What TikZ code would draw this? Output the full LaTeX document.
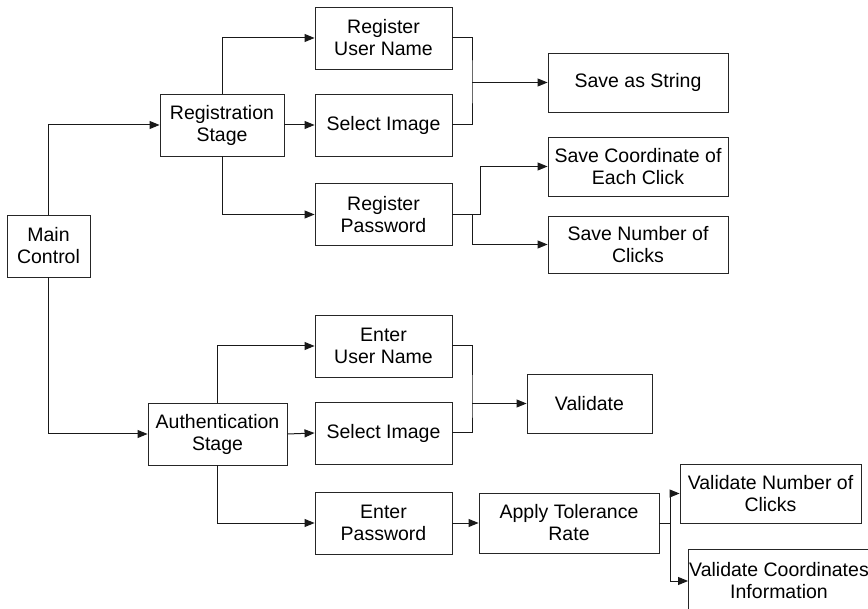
\documentclass[tikz,border=0pt]{standalone}
\usepackage{fontspec}
\setmainfont{Liberation Sans}
\usetikzlibrary{arrows.meta}
\tikzset{
  box/.style={draw=black!85, line width=0.9pt, rectangle, align=center, inner sep=0pt,
    minimum width=137pt, minimum height=62pt,
    font=\fontsize{19.5}{22}\selectfont},
  wide/.style={minimum width=181pt, minimum height=59pt},
  link/.style={draw=black!90, line width=1pt},
  arr/.style={link, -{Triangle[length=10pt,width=8pt]}}
}
\begin{document}
\begin{tikzpicture}[x=1pt,y=-1pt]
\fill[white] (0,0) rectangle (868,609);
\useasboundingbox (0,0) rectangle (868,609);

% root
\node[box, minimum width=83pt] (main) at (48.5,246) {Main\\Control};

% registration branch
\node[box, minimum width=124pt] (reg) at (222,125) {Registration\\Stage};
\node[box] (rusr) at (383.5,38) {Register\\User Name};
\node[box] (rimg) at (383.5,125) {Select Image};
\node[box] (rpwd) at (383.5,214.5) {Register\\Password};
\node[box, wide, minimum width=180pt] (sstr) at (638,82.5) {Save as String};
\node[box, wide, minimum width=180pt] (scoord) at (638,166.5) {Save Coordinate of\\Each Click};
\node[box, wide, minimum width=180pt, minimum height=57pt] (snum) at (638,244.5) {Save Number of\\Clicks};

% authentication branch
\node[box, minimum width=139pt] (auth) at (217.5,434) {Authentication\\Stage};
\node[box] (eusr) at (383.5,346) {Enter\\User Name};
\node[box] (aimg) at (383.5,433) {Select Image};
\node[box] (epwd) at (383.5,523) {Enter\\Password};
\node[box, minimum width=125pt, minimum height=59pt] (valid) at (589.5,403.5) {Validate};
\node[box, minimum width=180pt, minimum height=60pt] (atol) at (569,523) {Apply Tolerance\\Rate};
\node[box, wide] (vnum) at (770.5,493.5) {Validate Number of\\Clicks};
\node[box, wide, minimum height=64pt] (vcoord) at (779,581) {Validate Coordinates\\Information};

% root to stages
\draw[arr] (main.north) |- (reg.west);
\draw[arr] (main.south) |- (auth.west);

% registration links
\draw[arr] (reg.north) |- (rusr.west);
\draw[arr] (reg.east) -- (rimg.west);
\draw[arr] (reg.south) |- (rpwd.west);
\coordinate (j1) at (472,82.5);
\draw[link] (rusr.east) -| (j1) |- (rimg.east);
\draw[arr] (j1) -- (sstr.west);
\coordinate (j2) at (480,214.5);
\coordinate (j3) at (472,214.5);
\draw[arr] (rpwd.east) -- (j2) |- (scoord.west);
\draw[arr] (j3) |- (snum.west);

% authentication links
\draw[arr] (auth.north) |- (eusr.west);
\draw[arr] (auth.east) -- (aimg.west);
\draw[arr] (auth.south) |- (epwd.west);
\coordinate (j4) at (472,403.5);
\draw[link] (eusr.east) -| (j4) |- (aimg.east);
\draw[arr] (j4) -- (valid.west);
\draw[arr] (epwd.east) -- (atol.west);
\coordinate (j5) at (670,523);
\draw[link] (atol.east) -- (j5);
\draw[arr] (j5) |- (vnum.west);
\draw[arr] (j5) |- (vcoord.west);
\end{tikzpicture}
\end{document}
